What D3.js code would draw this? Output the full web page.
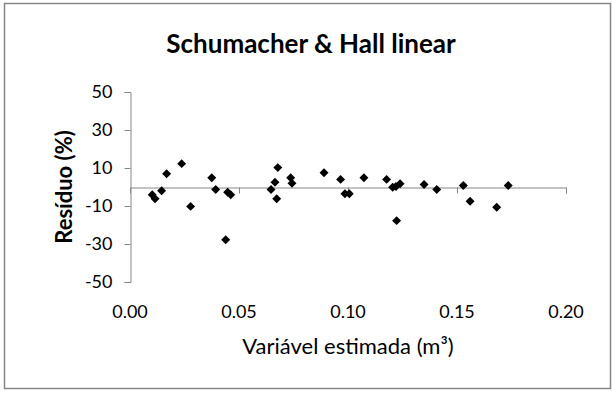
<!DOCTYPE html>
<html><head><meta charset="utf-8">
<script src="https://cdn.jsdelivr.net/npm/d3@7"></script>
<style>
html,body{margin:0;padding:0;background:#fff;}
svg{display:block;}
text{font-family:Lato,"Open Sans",sans-serif;fill:#000;}
</style></head>
<body>
<svg id="chart" width="615" height="393"></svg>
<script>
const title = "Schumacher & Hall linear";
const xLabel = "Variável estimada (m³)";
const yLabel = "Resíduo (%)";
const xTicks = [0, 0.05, 0.10, 0.15, 0.20];
const yTicks = [50, 30, 10, -10, -30, -50];
const xValues = [0.0102,0.0115,0.0145,0.0168,0.0237,0.0278,0.0375,0.0393,0.0448,0.0462,0.0439,
  0.0647,0.0665,0.0678,0.0673,0.0737,0.0743,
  0.0890,0.0966,0.0986,0.1006,0.1073,0.1177,0.1205,0.1220,0.1239,0.1223,0.1349,0.1407,0.1529,0.1560,0.1682,0.1735];
const residuals = [-4.1,-6.2,-2.0,7.0,12.3,-10.2,4.9,-1.3,-2.8,-4.1,-27.8,
  -1.3,2.5,10.2,-6.2,4.9,2.0,
  7.5,4.0,-3.6,-3.6,4.9,4.0,-0.1,0.3,1.7,-17.7,1.3,-1.3,0.8,-7.5,-10.7,0.8];

const svg = d3.select("#chart");
const axisColor = "#868686";

// outer border
svg.append("rect").attr("x",4.5).attr("y",3.5).attr("width",606).attr("height",385)
  .attr("fill","#fff").attr("stroke",axisColor).attr("stroke-width",1.5);

const x = d3.scaleLinear().domain([0,0.2]).range([130,566]);
const y = d3.scaleLinear().domain([-50,50]).range([282,92]);

// title
svg.append("text").attr("x",311).attr("y",53).attr("text-anchor","middle")
  .style("font-size","26px").style("font-weight","700").text(title);

// y axis
const yAxis = d3.axisLeft(y).tickValues(yTicks).tickSize(6).tickPadding(12).tickFormat(d=>String(d));
const gy = svg.append("g").attr("transform","translate(130.5,0)").call(yAxis);
gy.select(".domain").attr("stroke",axisColor);
gy.selectAll(".tick line").attr("stroke",axisColor);
gy.selectAll(".tick text").style("font-size","18px").attr("font-family",null).attr("fill","#000");

// x axis line at y=0 with ticks downward, labels at bottom
const xAxis = d3.axisBottom(x).tickValues(xTicks).tickSize(6).tickFormat("");
const gx = svg.append("g").attr("transform",`translate(0,${Math.round(y(0))+0.5})`).call(xAxis);
gx.select(".domain").attr("stroke",axisColor);
gx.selectAll(".tick line").attr("stroke",axisColor);
gx.selectAll(".tick").filter(d=>d===0).select("line").remove();

svg.append("g").selectAll("text").data(xTicks).join("text")
  .attr("x",d=>x(d)).attr("y",318).attr("text-anchor","middle")
  .style("font-size","18px").text(d=>d3.format(".2f")(d));

// axis titles
svg.append("text").attr("x",348).attr("y",354).attr("text-anchor","middle")
  .style("font-size","22px").text(xLabel);
svg.append("text").attr("transform","translate(72,187) rotate(-90)").attr("text-anchor","middle")
  .style("font-size","22px").style("font-weight","700").text(yLabel);

// points (diamonds)
const sym = d3.symbol().type(d3.symbolSquare).size(40);
svg.append("g").selectAll("path").data(xValues.map((v,i)=>[v,residuals[i]])).join("path")
  .attr("d",sym).attr("fill","#000")
  .attr("transform",d=>`translate(${x(d[0])},${y(d[1])}) rotate(45)`);
</script>
</body></html>
